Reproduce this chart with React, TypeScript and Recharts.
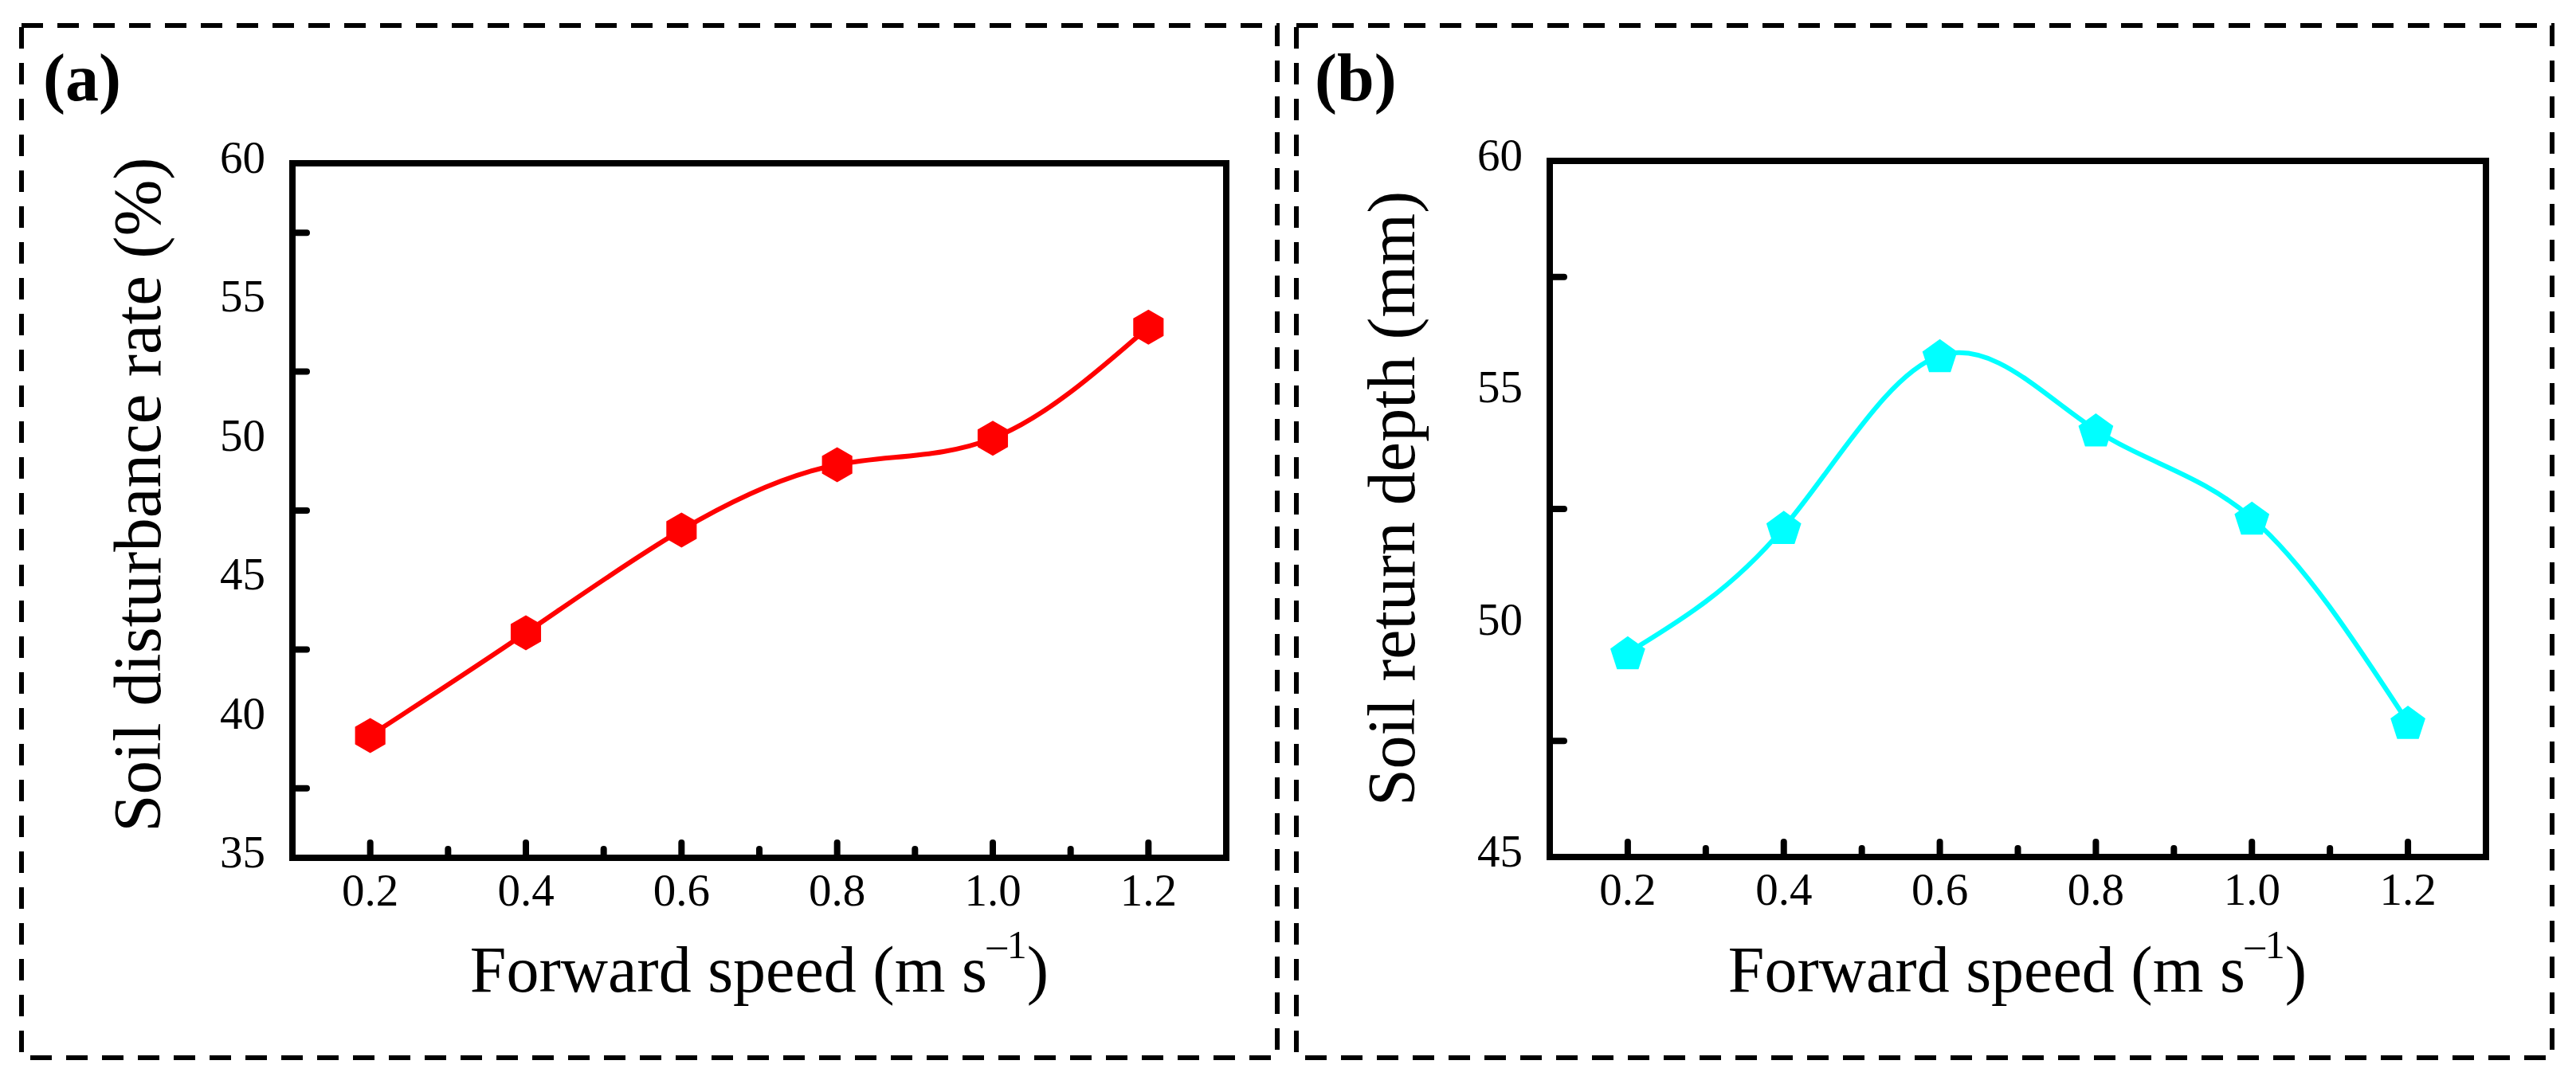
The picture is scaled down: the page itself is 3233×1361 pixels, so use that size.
import { LineChart, Line, XAxis, YAxis, ReferenceArea } from "recharts";

// forward speed (m s-1)
const speeds = [0.2, 0.4, 0.6, 0.8, 1.0, 1.2];
// panel (a) soil disturbance rate (%)
const disturbanceRate = [39.4, 43.1, 46.8, 49.15, 50.1, 54.1];
// panel (b) soil return depth (mm)
const returnDepth = [49.4, 52.1, 55.8, 54.2, 52.3, 47.9];

const xTicks = [0.2, 0.3, 0.4, 0.5, 0.6, 0.7, 0.8, 0.9, 1.0, 1.1, 1.2];
const xLabels = ["0.2", "0.4", "0.6", "0.8", "1.0", "1.2"];
const yTicksA = [35, 37.5, 40, 42.5, 45, 47.5, 50, 52.5, 55, 57.5, 60];
const yTicksB = [45, 47.5, 50, 52.5, 55, 57.5, 60];

const FONT = "'Liberation Serif', 'Times New Roman', serif";
const W = 3233;
const H = 1361;
const AXIS_H = 120;
const AXIS_W = 120;

const dataA = speeds.map((s, i) => ({ speed: s, value: disturbanceRate[i] }));
const dataB = speeds.map((s, i) => ({ speed: s, value: returnDepth[i] }));

function XTick(props: any) {
  const { x, y, payload } = props;
  const label = Number(payload.value).toFixed(1);
  const major = xLabels.includes(label);
  return (
    <g>
      <line
        x1={x}
        x2={x}
        y1={y}
        y2={y - (major ? 19 : 11)}
        stroke="#000"
        strokeWidth={8}
        strokeLinecap="round"
      />
      {major && (
        <text x={x} y={y + 60} textAnchor="middle" fontFamily={FONT} fontSize={57} fill="#000">
          {label}
        </text>
      )}
    </g>
  );
}

function YTick(props: any) {
  const { x, y, payload } = props;
  const v = Number(payload.value);
  const major = v % 5 === 0;
  if (!major) {
    return (
      <line x1={x} x2={x + 18} y1={y} y2={y} stroke="#000" strokeWidth={8} strokeLinecap="round" />
    );
  }
  return (
    <text x={x - 34} y={y + 12} textAnchor="end" fontFamily={FONT} fontSize={57} fill="#000">
      {v}
    </text>
  );
}

function Hexagon(props: any) {
  const { cx, cy, index } = props;
  const r = 22;
  const pts = [0, 1, 2, 3, 4, 5]
    .map((k) => {
      const a = (Math.PI / 3) * k - Math.PI / 2;
      return `${cx + r * Math.cos(a)},${cy + r * Math.sin(a)}`;
    })
    .join(" ");
  return <polygon key={`hex-${index}`} points={pts} fill="#FF0000" />;
}

function Pentagon(props: any) {
  const { cx, cy, index } = props;
  const r = 23;
  const pts = [0, 1, 2, 3, 4]
    .map((k) => {
      const a = ((2 * Math.PI) / 5) * k - Math.PI / 2;
      return `${cx + r * Math.cos(a)},${cy + 2 + r * Math.sin(a)}`;
    })
    .join(" ");
  return <polygon key={`pent-${index}`} points={pts} fill="#00FFFF" />;
}

interface PanelProps {
  data: { speed: number; value: number }[];
  yDomain: [number, number];
  yTicks: number[];
  color: string;
  dot: (p: any) => any;
  width: number;
  margin: { top: number; right: number; bottom: number; left: number };
}

function Panel({ data, yDomain, yTicks, color, dot, width, margin }: PanelProps) {
  return (
    <LineChart
      width={width}
      height={H}
      data={data}
      margin={{
        top: margin.top,
        right: margin.right,
        bottom: margin.bottom - AXIS_H,
        left: margin.left - AXIS_W,
      }}
    >
      <ReferenceArea
        x1={0.1}
        x2={1.3}
        y1={yDomain[0]}
        y2={yDomain[1]}
        fill="none"
        stroke="#000"
        strokeWidth={8}
        ifOverflow="visible"
      />
      <XAxis
        dataKey="speed"
        type="number"
        domain={[0.1, 1.3]}
        ticks={xTicks}
        interval={0}
        height={AXIS_H}
        tickSize={0}
        tickMargin={0}
        axisLine={false}
        tickLine={false}
        tick={(p: any) => <XTick {...p} />}
      />
      <YAxis
        type="number"
        domain={yDomain}
        ticks={yTicks}
        interval={0}
        width={AXIS_W}
        tickSize={0}
        tickMargin={0}
        axisLine={false}
        tickLine={false}
        tick={(p: any) => <YTick {...p} />}
      />
      <Line
        type="natural"
        dataKey="value"
        stroke={color}
        strokeWidth={6}
        dot={dot}
        activeDot={false}
        isAnimationActive={false}
      />
    </LineChart>
  );
}

function XTitle({ cx }: { cx: number }) {
  return (
    <text x={cx} y={1245} textAnchor="middle" fontFamily={FONT} fontSize={82} fill="#000">
      Forward speed (m s
      <tspan dy={-42} fontSize={50}>
        –1
      </tspan>
      <tspan dy={42}>)</tspan>
    </text>
  );
}

export default function App() {
  return (
    <div style={{ position: "absolute", left: 0, top: 0, width: W, height: H, background: "#fff" }}>
      <div style={{ position: "absolute", left: 0, top: 0 }}>
        <Panel
          data={dataA}
          yDomain={[35, 60]}
          yTicks={yTicksA}
          color="#FF0000"
          dot={Hexagon}
          width={1615}
          margin={{ top: 205, right: 76, bottom: 284, left: 367 }}
        />
      </div>
      <div style={{ position: "absolute", left: 1615, top: 0 }}>
        <Panel
          data={dataB}
          yDomain={[45, 60]}
          yTicks={yTicksB}
          color="#00FFFF"
          dot={Pentagon}
          width={1618}
          margin={{ top: 202, right: 113, bottom: 285, left: 330 }}
        />
      </div>
      <svg
        width={W}
        height={H}
        style={{ position: "absolute", left: 0, top: 0, pointerEvents: "none" }}
      >
        <rect x={27} y={32} width={1576} height={1296} fill="none" stroke="#000" strokeWidth={6} strokeDasharray="27 18" />
        <rect x={1627} y={32} width={1576} height={1296} fill="none" stroke="#000" strokeWidth={6} strokeDasharray="27 18" />
        <text x={54} y={126} fontFamily={FONT} fontWeight="bold" fontSize={84} fill="#000">
          (a)
        </text>
        <text x={1650} y={126} fontFamily={FONT} fontWeight="bold" fontSize={84} fill="#000">
          (b)
        </text>
        <text
          transform="translate(201,621) rotate(-90)"
          textAnchor="middle"
          fontFamily={FONT}
          fontSize={85}
          fill="#000"
        >
          Soil disturbance rate (%)
        </text>
        <text
          transform="translate(1775,626) rotate(-90)"
          textAnchor="middle"
          fontFamily={FONT}
          fontSize={84}
          fill="#000"
        >
          Soil return depth (mm)
        </text>
        <XTitle cx={953} />
        <XTitle cx={2532} />
      </svg>
    </div>
  );
}
